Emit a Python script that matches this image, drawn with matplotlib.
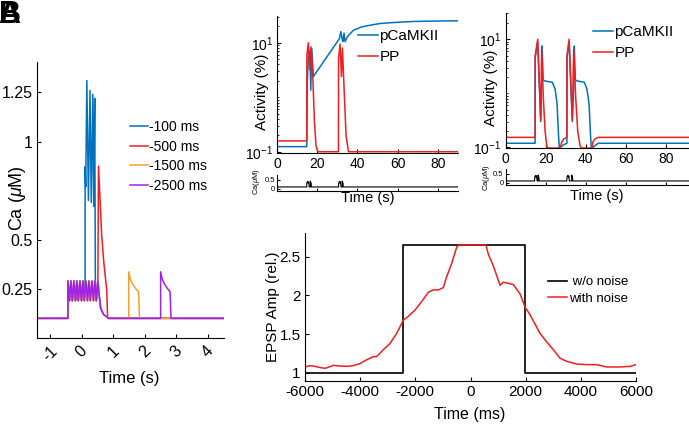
import numpy as np
import matplotlib
matplotlib.use('Agg')
import matplotlib.pyplot as plt
from matplotlib.ticker import LogLocator, NullFormatter, FixedLocator

plt.rcParams['font.family'] = ['Liberation Sans', 'DejaVu Sans']
plt.rcParams['mathtext.fontset'] = 'custom'
plt.rcParams['mathtext.rm'] = 'Liberation Sans'
plt.rcParams['mathtext.it'] = 'Liberation Sans:italic'
plt.rcParams['mathtext.bf'] = 'Liberation Sans:bold'
plt.rcParams['axes.unicode_minus'] = False
plt.rcParams['axes.linewidth'] = 0.8

W, H = 689, 426

# ---------------- data: Ca traces (left panel) ----------------
train_t = [-0.44, -0.44, -0.39, -0.345, -0.30, -0.25, -0.20, -0.155, -0.11, -0.06, -0.01,
           0.035, 0.08, 0.13, 0.18, 0.225, 0.27, 0.32, 0.37, 0.415, 0.46, 0.51]
train_ca = [0.10, 0.29, 0.19, 0.29, 0.19, 0.29, 0.19, 0.29, 0.19, 0.29, 0.19,
            0.29, 0.19, 0.29, 0.19, 0.29, 0.19, 0.29, 0.19, 0.29, 0.19, 0.29]
decay_t = [0.55, 0.60, 0.69, 0.85]
decay_ca = [0.22, 0.15, 0.12, 0.10]

t_100 = [-1.45] + train_t[:13] + [0.105, 0.105, 0.125, 0.16, 0.21, 0.26, 0.30, 0.35, 0.38, 0.41, 0.43] \
        + train_t[20:] + decay_t + [4.5]
ca_100 = [0.10] + train_ca[:13] + [0.29, 0.872, 0.77, 1.31, 0.70, 1.26, 0.69, 1.24, 0.67, 1.22, 0.29] \
        + train_ca[20:] + decay_ca + [0.10]

t_500 = [-1.45] + train_t + [0.53, 0.58, 0.63, 0.69, 0.74, 0.79, 0.82, 4.5]
ca_500 = [0.10] + train_ca + [0.875, 0.70, 0.53, 0.40, 0.32, 0.25, 0.10, 0.10]

t_1500 = [-1.45] + train_t + decay_t + [1.49, 1.49, 1.54, 1.61, 1.69, 1.80, 1.83, 4.5]
ca_1500 = [0.10] + train_ca + decay_ca + [0.10, 0.337, 0.30, 0.275, 0.255, 0.235, 0.10, 0.10]

t_2500 = [-1.45] + train_t + decay_t + [2.50, 2.50, 2.55, 2.62, 2.70, 2.80, 2.83, 4.5]
ca_2500 = [0.10] + train_ca + decay_ca + [0.10, 0.337, 0.30, 0.275, 0.255, 0.235, 0.10, 0.10]

ca_labels = ['-100 ms', '-500 ms', '-1500 ms', '-2500 ms']
ca_colors = ['#0072BD', '#F01E23', '#F5A02D', '#A020F0']

# ---------------- data: middle panel (activity) ----------------
mid_t_cam = [0, 14.7, 15.0, 15.6, 16.3, 16.7, 17.2, 18.0, 30.5, 31.0, 31.7, 32.3, 32.7, 33.3,
             33.8, 35, 38, 42, 46.3, 51.4, 56.3, 62, 68, 75, 82, 90]
mid_cam = [0.124, 0.124, 2.0, 7.0, 7.0, 1.35, 7.9, 2.4, 11.2, 12.0, 16.0, 12.0, 10.5, 15.0,
           10.5, 13.0, 17.0, 19.5, 21.0, 22.6, 23.3, 24.0, 24.6, 24.9, 25.1, 25.3]
mid_t_pp = [0, 14.7, 14.75, 15.5, 16.2, 16.8, 17.7, 18.5, 19.3, 20.2,
            30.5, 30.55, 31.3, 32.0, 32.5, 33.3, 34.3, 35.5, 90]
mid_pp = [0.158, 0.158, 6.0, 10.0, 3.2, 8.4, 2.4, 0.38, 0.13, 0.1,
          0.1, 5.0, 9.5, 2.4, 8.0, 1.5, 0.2, 0.1, 0.1]
mid_t_ca = [0, 14.7, 14.7, 15.1, 15.4, 15.7, 15.9, 16.5, 16.5, 16.9, 17.0,
            30.6, 30.6, 31.0, 31.3, 31.6, 31.8, 32.4, 32.4, 32.8, 32.9, 90]
mid_ca = [0.1, 0.1, 0.3, 0.4, 0.3, 0.38, 0.1, 0.1, 0.42, 0.3, 0.1,
          0.1, 0.3, 0.4, 0.3, 0.38, 0.1, 0.1, 0.42, 0.3, 0.1, 0.1]

# ---------------- data: right panel (activity) ----------------
rgt_t_cam = [0, 14.7, 14.75, 16.0, 17.5, 18.0, 18.2, 18.7, 19.3, 23.3, 24.7, 25.7, 26.3, 26.8,
             27.2, 28.0, 29.0, 30.6, 30.65, 31.7, 33.3, 34.1, 34.3, 34.8, 35.5, 39.3, 40.6,
             41.7, 42.3, 42.8, 43.3, 44.7, 46.3, 91.5]
rgt_cam = [0.119, 0.119, 4.5, 9.0, 0.3, 1.5, 7.5, 1.8, 1.7, 1.6, 1.2, 0.63, 0.2, 0.097,
           0.097, 0.105, 0.112, 0.119, 4.5, 9.0, 0.3, 1.5, 7.5, 1.8, 1.7, 1.6, 1.2,
           0.63, 0.2, 0.097, 0.097, 0.108, 0.119, 0.119]
rgt_t_pp = [0, 14.7, 14.75, 16.0, 17.5, 18.0, 18.8, 19.7, 20.5, 21.0, 27.3, 28.0, 29.0, 30.6,
            30.65, 31.7, 33.3, 34.0, 35.0, 36.0, 37.2, 38.0, 43.1, 43.6, 44.6, 46.3, 91.5]
rgt_pp = [0.153, 0.153, 5.0, 10.0, 0.33, 6.5, 0.84, 0.2, 0.107, 0.097, 0.097, 0.125, 0.143, 0.153,
          5.0, 10.0, 0.33, 6.5, 0.84, 0.2, 0.107, 0.097, 0.097, 0.125, 0.143, 0.153, 0.153]
rgt_t_ca = [0, 14.5, 14.5, 14.9, 15.2, 15.5, 15.7, 16.2, 16.2, 16.6, 16.7,
            30.6, 30.6, 31.0, 31.3, 31.6, 31.8, 33.0, 33.0, 33.4, 33.5, 91.5]
rgt_ca = [0.1, 0.1, 0.3, 0.4, 0.3, 0.38, 0.1, 0.1, 0.42, 0.3, 0.1,
          0.1, 0.3, 0.4, 0.3, 0.38, 0.1, 0.1, 0.42, 0.3, 0.1, 0.1]

# ---------------- data: bottom panel (EPSP) ----------------
epsp_t_clean = [-6000, -2430, -2430, 1980, 1980, 6000]
epsp_clean = [1.0, 1.0, 2.65, 2.65, 1.0, 1.0]
epsp_t_noise = [-6000, -5820, -5640, -5456, -5275, -5100, -4973, -4750, -4490, -4248, -4006,
                -3764, -3522, -3401, -3160, -2918, -2677, -2435, -2254, -2012, -1770, -1528,
                -1347, -1166, -985, -864, -683, -501, -420, 560, 647, 828, 1070, 1190, 1553,
                1795, 1976, 2157, 2520, 2762, 3003, 3245, 3487, 3849, 4212, 4574, 4937, 5420,
                5783, 6000]
epsp_noise = [1.077, 1.094, 1.085, 1.07, 1.06, 1.08, 1.098, 1.09, 1.085, 1.094, 1.12,
              1.17, 1.21, 1.21, 1.30, 1.38, 1.51, 1.68, 1.73, 1.81, 1.92, 2.04,
              2.07, 2.07, 2.10, 2.24, 2.41, 2.62, 2.65, 2.65, 2.53, 2.38, 2.13, 2.17, 2.14,
              2.02, 1.85, 1.75, 1.51, 1.40, 1.30, 1.19, 1.15, 1.115, 1.107, 1.107, 1.077, 1.077,
              1.085, 1.107]

BLUE = '#0072BD'
RED = '#F01E23'

fig = plt.figure(figsize=(W / 100, H / 100), dpi=100)


def rect(l, t, r, b):
    return [l / W, 1 - b / H, (r - l) / W, (b - t) / H]


def fpos(px, py):
    return (px / W, 1 - py / H)


def style(ax, size):
    for s in ('top', 'right'):
        ax.spines[s].set_visible(False)
    ax.tick_params(direction='in', length=3, width=0.8, labelsize=size, pad=3)
    ax.tick_params(which='minor', direction='in', length=1.6, width=0.6)


def xlab(ax, text, px, py, size):
    ax.set_xlabel(text, fontsize=size)
    ax.xaxis.label.set_va('center')
    ax.xaxis.set_label_coords(*fpos(px, py), transform=fig.transFigure)


def ylab(ax, text, px, py, size):
    ax.set_ylabel(text, fontsize=size)
    ax.yaxis.label.set_va('center')
    ax.yaxis.set_label_coords(*fpos(px, py), transform=fig.transFigure)


# ---------------- left panel ----------------
axA = fig.add_axes(rect(36.7, 62, 224, 338))
for tt, cc, col, lab in zip([t_100, t_500, t_1500, t_2500], [ca_100, ca_500, ca_1500, ca_2500],
                            ca_colors, ca_labels):
    axA.plot(tt, cc, color=col, lw=1.1, label=lab)
axA.set_xlim(-1.43, 4.51)
axA.set_ylim(0, 1.405)
axA.set_xticks([-1, 0, 1, 2, 3, 4])
axA.set_yticks([0.25, 0.5, 1, 1.25])
axA.set_yticklabels(['0.25', '0.5', '1', '1.25'])
style(axA, 11.5)
axA.tick_params(axis='x', pad=4)
for lb in axA.get_xticklabels():
    lb.set_rotation(45)
xlab(axA, 'Time (s)', 129, 379, 12)
ylab(axA, r'Ca ($\mu$M)', 17, 198, 13)
axA.legend(loc='upper left', bbox_to_anchor=fpos(130, 120), bbox_transform=fig.transFigure,
           frameon=False, fontsize=10, handlelength=1.3, handletextpad=0.1,
           borderpad=0, borderaxespad=0, labelspacing=0.4)


def activity_panel(rect_top, rect_ca, t_cam, cam, t_pp, pp, t_ca, ca, xmax,
                   leg_xy, ylab_xy, ca_ylab_xy, time_xy):
    ax = fig.add_axes(rect_top)
    ax.plot(t_cam, cam, color=BLUE, lw=1.1, label='pCaMKII')
    ax.plot(t_pp, pp, color=RED, lw=1.1, label='PP')
    ax.set_yscale('log')
    ax.set_ylim(0.096, 31)
    ax.set_xlim(0, xmax)
    ax.yaxis.set_major_locator(FixedLocator([0.1, 10]))
    ax.yaxis.set_minor_locator(LogLocator(base=10, subs=np.arange(1, 10)))
    ax.yaxis.set_minor_formatter(NullFormatter())
    ax.set_xticks([0, 20, 40, 60, 80])
    style(ax, 10)
    ylab(ax, 'Activity (%)', ylab_xy[0], ylab_xy[1], 11)
    ax.legend(loc='upper left', bbox_to_anchor=fpos(*leg_xy), bbox_transform=fig.transFigure,
              frameon=False, fontsize=11, handlelength=1.3, handletextpad=0.1,
              borderpad=0, borderaxespad=0, labelspacing=0.45)

    axc = fig.add_axes(rect_ca)
    axc.plot(t_ca, ca, color='black', lw=0.8)
    axc.set_xlim(0, xmax)
    axc.set_ylim(-0.12, 0.75)
    axc.set_yticks([0, 0.5])
    axc.set_yticklabels(['0', '0.5'])
    axc.set_xticks([20, 40, 60, 80])
    axc.set_xticklabels([])
    style(axc, 5.5)
    axc.tick_params(length=2, pad=1.5)
    ylab(axc, r'Ca($\mu$M)', ca_ylab_xy[0], ca_ylab_xy[1], 5.5)
    xlab(axc, 'Time (s)', time_xy[0], time_xy[1], 10.5)
    return ax


activity_panel(rect(277.3, 16, 457.7, 152.7), rect(277.3, 175, 457.7, 191),
               mid_t_cam, mid_cam, mid_t_pp, mid_pp, mid_t_ca, mid_ca, 90,
               (358, 29), (262, 92), (256, 182), (367.5, 198))
activity_panel(rect(505.7, 12.7, 688.7, 148.3), rect(505.7, 169, 688.7, 185),
               rgt_t_cam, rgt_cam, rgt_t_pp, rgt_pp, rgt_t_ca, rgt_ca, 91.5,
               (593, 25), (491, 88), (486, 178), (597, 196.5))

# ---------------- bottom panel ----------------
axC = fig.add_axes(rect(305, 233.3, 636, 380.7))
axC.plot(epsp_t_clean, epsp_clean, color='black', lw=1.2, label=' w/o noise')
axC.plot(epsp_t_noise, epsp_noise, color=RED, lw=1.1, label='with noise')
axC.set_xlim(-6000, 6000)
axC.set_ylim(0.9, 2.8)
axC.set_xticks([-6000, -4000, -2000, 0, 2000, 4000, 6000])
axC.set_yticks([1, 1.5, 2, 2.5])
axC.set_yticklabels(['1', '1.5', '2', '2.5'])
style(axC, 11)
ylab(axC, 'EPSP Amp (rel.)', 272.5, 307, 11)
xlab(axC, 'Time (ms)', 470, 414, 11.5)
axC.legend(loc='upper left', bbox_to_anchor=fpos(548, 276), bbox_transform=fig.transFigure,
           frameon=False, fontsize=9.5, handlelength=1.45, handletextpad=0.15,
           borderpad=0, borderaxespad=0, labelspacing=0.35)

# panel letters (overlapping, as in the source image)
for letter in ('A', 'B'):
    fig.text(-0.002, 1.0, letter, fontsize=22, fontweight='bold', va='top', ha='left')

fig.savefig('out.png', dpi=100)
